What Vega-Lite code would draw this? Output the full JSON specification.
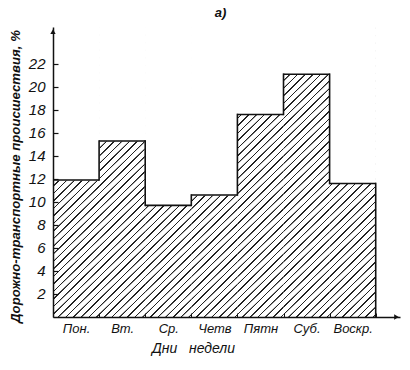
{
  "$schema": "https://vega.github.io/schema/vega-lite/v6.json",
  "width": 347,
  "height": 290,
  "autosize": {"type": "none"},
  "padding": {"left": 53, "top": 27, "right": 10, "bottom": 53},
  "background": "white",
  "title": {"text": "а)", "font": "Liberation Sans", "fontSize": 13, "fontStyle": "italic", "fontWeight": "bold", "color": "#111", "frame": "group", "offset": 7, "dx": -6},
  "data": {"values": [
    {"day": "Пон.", "value": 11.9},
    {"day": "Вт.", "value": 15.3},
    {"day": "Ср.", "value": 9.7},
    {"day": "Четв", "value": 10.6},
    {"day": "Пятн", "value": 17.6},
    {"day": "Суб.", "value": 21.1},
    {"day": "Воскр.", "value": 11.6}
  ]},
  "config": {"view": {"stroke": null}, "axis": {"labelOverlap": false}},
  "layer": [
    {
      "mark": {"type": "bar", "stroke": null, "fill": {"gradient": "linear", "x1": 0, "y1": 0, "x2": 0.17615, "y2": 1.1286, "stops": [
        {"offset":0,"color":"#fff"},{"offset":0.001,"color":"#222"},{"offset":0.0045,"color":"#222"},{"offset":0.0055,"color":"#fff"},
        {"offset":0.0225,"color":"#fff"},{"offset":0.0235,"color":"#222"},{"offset":0.027,"color":"#222"},{"offset":0.028,"color":"#fff"},
        {"offset":0.045,"color":"#fff"},{"offset":0.046,"color":"#222"},{"offset":0.0495,"color":"#222"},{"offset":0.0505,"color":"#fff"},
        {"offset":0.0675,"color":"#fff"},{"offset":0.0685,"color":"#222"},{"offset":0.072,"color":"#222"},{"offset":0.073,"color":"#fff"},
        {"offset":0.09,"color":"#fff"},{"offset":0.091,"color":"#222"},{"offset":0.0945,"color":"#222"},{"offset":0.0955,"color":"#fff"},
        {"offset":0.1125,"color":"#fff"},{"offset":0.1135,"color":"#222"},{"offset":0.117,"color":"#222"},{"offset":0.118,"color":"#fff"},
        {"offset":0.135,"color":"#fff"},{"offset":0.136,"color":"#222"},{"offset":0.1395,"color":"#222"},{"offset":0.1405,"color":"#fff"},
        {"offset":0.1575,"color":"#fff"},{"offset":0.1585,"color":"#222"},{"offset":0.162,"color":"#222"},{"offset":0.163,"color":"#fff"},
        {"offset":0.18,"color":"#fff"},{"offset":0.181,"color":"#222"},{"offset":0.1845,"color":"#222"},{"offset":0.1855,"color":"#fff"},
        {"offset":0.2025,"color":"#fff"},{"offset":0.2035,"color":"#222"},{"offset":0.207,"color":"#222"},{"offset":0.208,"color":"#fff"},
        {"offset":0.225,"color":"#fff"},{"offset":0.226,"color":"#222"},{"offset":0.2295,"color":"#222"},{"offset":0.2305,"color":"#fff"},
        {"offset":0.2475,"color":"#fff"},{"offset":0.2485,"color":"#222"},{"offset":0.252,"color":"#222"},{"offset":0.253,"color":"#fff"},
        {"offset":0.27,"color":"#fff"},{"offset":0.271,"color":"#222"},{"offset":0.2745,"color":"#222"},{"offset":0.2755,"color":"#fff"},
        {"offset":0.2925,"color":"#fff"},{"offset":0.2935,"color":"#222"},{"offset":0.297,"color":"#222"},{"offset":0.298,"color":"#fff"},
        {"offset":0.315,"color":"#fff"},{"offset":0.316,"color":"#222"},{"offset":0.3195,"color":"#222"},{"offset":0.3205,"color":"#fff"},
        {"offset":0.3375,"color":"#fff"},{"offset":0.3385,"color":"#222"},{"offset":0.342,"color":"#222"},{"offset":0.343,"color":"#fff"},
        {"offset":0.36,"color":"#fff"},{"offset":0.361,"color":"#222"},{"offset":0.3645,"color":"#222"},{"offset":0.3655,"color":"#fff"},
        {"offset":0.3825,"color":"#fff"},{"offset":0.3835,"color":"#222"},{"offset":0.387,"color":"#222"},{"offset":0.388,"color":"#fff"},
        {"offset":0.405,"color":"#fff"},{"offset":0.406,"color":"#222"},{"offset":0.4095,"color":"#222"},{"offset":0.4105,"color":"#fff"},
        {"offset":0.4275,"color":"#fff"},{"offset":0.4285,"color":"#222"},{"offset":0.432,"color":"#222"},{"offset":0.433,"color":"#fff"},
        {"offset":0.45,"color":"#fff"},{"offset":0.451,"color":"#222"},{"offset":0.4545,"color":"#222"},{"offset":0.4555,"color":"#fff"},
        {"offset":0.4725,"color":"#fff"},{"offset":0.4735,"color":"#222"},{"offset":0.477,"color":"#222"},{"offset":0.478,"color":"#fff"},
        {"offset":0.495,"color":"#fff"},{"offset":0.496,"color":"#222"},{"offset":0.4995,"color":"#222"},{"offset":0.5005,"color":"#fff"},
        {"offset":0.5175,"color":"#fff"},{"offset":0.5185,"color":"#222"},{"offset":0.522,"color":"#222"},{"offset":0.523,"color":"#fff"},
        {"offset":0.54,"color":"#fff"},{"offset":0.541,"color":"#222"},{"offset":0.5445,"color":"#222"},{"offset":0.5455,"color":"#fff"},
        {"offset":0.5625,"color":"#fff"},{"offset":0.5635,"color":"#222"},{"offset":0.567,"color":"#222"},{"offset":0.568,"color":"#fff"},
        {"offset":0.585,"color":"#fff"},{"offset":0.586,"color":"#222"},{"offset":0.5895,"color":"#222"},{"offset":0.5905,"color":"#fff"},
        {"offset":0.6075,"color":"#fff"},{"offset":0.6085,"color":"#222"},{"offset":0.612,"color":"#222"},{"offset":0.613,"color":"#fff"},
        {"offset":0.63,"color":"#fff"},{"offset":0.631,"color":"#222"},{"offset":0.6345,"color":"#222"},{"offset":0.6355,"color":"#fff"},
        {"offset":0.6525,"color":"#fff"},{"offset":0.6535,"color":"#222"},{"offset":0.657,"color":"#222"},{"offset":0.658,"color":"#fff"},
        {"offset":0.675,"color":"#fff"},{"offset":0.676,"color":"#222"},{"offset":0.6795,"color":"#222"},{"offset":0.6805,"color":"#fff"},
        {"offset":0.6975,"color":"#fff"},{"offset":0.6985,"color":"#222"},{"offset":0.702,"color":"#222"},{"offset":0.703,"color":"#fff"},
        {"offset":0.72,"color":"#fff"},{"offset":0.721,"color":"#222"},{"offset":0.7245,"color":"#222"},{"offset":0.7255,"color":"#fff"},
        {"offset":0.7425,"color":"#fff"},{"offset":0.7435,"color":"#222"},{"offset":0.747,"color":"#222"},{"offset":0.748,"color":"#fff"},
        {"offset":0.765,"color":"#fff"},{"offset":0.766,"color":"#222"},{"offset":0.7695,"color":"#222"},{"offset":0.7705,"color":"#fff"},
        {"offset":0.7875,"color":"#fff"},{"offset":0.7885,"color":"#222"},{"offset":0.792,"color":"#222"},{"offset":0.793,"color":"#fff"},
        {"offset":0.81,"color":"#fff"},{"offset":0.811,"color":"#222"},{"offset":0.8145,"color":"#222"},{"offset":0.8155,"color":"#fff"},
        {"offset":0.8325,"color":"#fff"},{"offset":0.8335,"color":"#222"},{"offset":0.837,"color":"#222"},{"offset":0.838,"color":"#fff"},
        {"offset":0.855,"color":"#fff"},{"offset":0.856,"color":"#222"},{"offset":0.8595,"color":"#222"},{"offset":0.8605,"color":"#fff"},
        {"offset":0.8775,"color":"#fff"},{"offset":0.8785,"color":"#222"},{"offset":0.882,"color":"#222"},{"offset":0.883,"color":"#fff"},
        {"offset":0.9,"color":"#fff"},{"offset":0.901,"color":"#222"},{"offset":0.9045,"color":"#222"},{"offset":0.9055,"color":"#fff"},
        {"offset":0.9225,"color":"#fff"},{"offset":0.9235,"color":"#222"},{"offset":0.927,"color":"#222"},{"offset":0.928,"color":"#fff"},
        {"offset":0.945,"color":"#fff"},{"offset":0.946,"color":"#222"},{"offset":0.9495,"color":"#222"},{"offset":0.9505,"color":"#fff"},
        {"offset":0.9675,"color":"#fff"},{"offset":0.9685,"color":"#222"},{"offset":0.972,"color":"#222"},{"offset":0.973,"color":"#fff"},
        {"offset":0.99,"color":"#fff"},{"offset":0.991,"color":"#222"},{"offset":0.9945,"color":"#222"},{"offset":0.9955,"color":"#fff"}
      ]}},
      "encoding": {
        "x": {
          "field": "day", "type": "nominal",
          "scale": {"domain": ["Пон.", "Вт.", "Ср.", "Четв", "Пятн", "Суб.", "Воскр."], "paddingInner": 0, "paddingOuter": 0.2635, "align": 0},
          "axis": {
            "title": "Дни\u00a0\u00a0\u00a0недели", "labelAngle": 0, "labelOverlap": false,
            "tickBand": "extent", "tickSize": -4, "tickColor": "#111", "tickWidth": 1,
            "labelPadding": 9, "labelFont": "Liberation Sans Narrow, Liberation Sans", "labelFontSize": 13, "labelFontStyle": "italic", "labelColor": "#111",
            "domainColor": "#111", "domainWidth": 1.5,
            "titleFont": "Liberation Sans", "titleFontSize": 14, "titleFontStyle": "italic", "titleFontWeight": "normal", "titleColor": "#111",
            "titleX": 140, "titleY": 35, "titleBaseline": "alphabetic", "titleAlign": "center",
            "zindex": 1
          }
        },
        "y": {
          "datum": 25.2, "type": "quantitative",
          "scale": {"domain": [0, 25.2], "nice": false, "zero": true},
          "axis": {
            "title": "Дорожно-транспортные происшествия, %",
            "values": [2, 4, 6, 8, 10, 12, 14, 16, 18, 20, 22],
            "labelOverlap": false,
            "grid": false, "tickSize": -5, "tickColor": "#111", "tickWidth": 1.2,
            "labelPadding": 13, "labelFont": "Liberation Sans Narrow, Liberation Sans", "labelFontSize": 15, "labelFontStyle": "italic", "labelColor": "#111",
            "domainColor": "#111", "domainWidth": 1.5,
            "titleFont": "Liberation Sans", "titleFontSize": 13.2, "titleFontStyle": "italic", "titleFontWeight": "bold", "titleColor": "#111",
            "titleX": -34, "titleY": 149, "titleAngle": -90, "titleAlign": "center", "titleBaseline": "alphabetic",
            "zindex": 1
          }
        }
      }
    },
    {
      "mark": {"type": "bar", "fill": "#fff", "stroke": "#fff", "strokeWidth": 1},
      "encoding": {
        "x": {"field": "day", "type": "nominal"},
        "y": {"field": "value", "type": "quantitative", "axis": {"labelOverlap": false, "values": [2, 4, 6, 8, 10, 12, 14, 16, 18, 20, 22]}},
        "y2": {"datum": 25.2}
      }
    },
    {
      "mark": {"type": "bar", "filled": false, "color": "#111", "strokeWidth": 1.6},
      "encoding": {
        "x": {"field": "day", "type": "nominal"},
        "y": {"field": "value", "type": "quantitative", "axis": {"labelOverlap": false, "values": [2, 4, 6, 8, 10, 12, 14, 16, 18, 20, 22]}},
        "y2": {"field": "value"}
      }
    },
    {
      "transform": [{"window": [{"op": "lag", "field": "value", "as": "prev"}]}, {"filter": "datum.prev != null"}],
      "mark": {"type": "rule", "color": "#111", "strokeWidth": 1.6, "strokeCap": "square"},
      "encoding": {
        "x": {"field": "day", "type": "nominal", "bandPosition": 0},
        "y": {"field": "prev", "type": "quantitative", "axis": {"labelOverlap": false, "values": [2, 4, 6, 8, 10, 12, 14, 16, 18, 20, 22]}},
        "y2": {"field": "value"}
      }
    },
    {
      "transform": [{"filter": "datum.day == 'Воскр.'"}],
      "mark": {"type": "rule", "color": "#111", "strokeWidth": 1.6, "strokeCap": "square"},
      "encoding": {
        "x": {"field": "day", "type": "nominal", "bandPosition": 1},
        "y": {"field": "value", "type": "quantitative", "axis": {"labelOverlap": false, "values": [2, 4, 6, 8, 10, 12, 14, 16, 18, 20, 22]}},
        "y2": {"datum": 0}
      }
    },
    {
      "transform": [{"filter": "datum.day == 'Пон.'"}],
      "mark": {"type": "point", "shape": "triangle-up", "filled": true, "color": "#111", "size": 28, "opacity": 1},
      "encoding": {
        "x": {"datum": "Пон.", "type": "nominal", "bandPosition": 0},
        "y": {"datum": 24.8, "type": "quantitative", "axis": {"labelOverlap": false, "values": [2, 4, 6, 8, 10, 12, 14, 16, 18, 20, 22]}}
      }
    },
    {
      "transform": [{"filter": "datum.day == 'Пон.'"}],
      "mark": {"type": "point", "shape": "triangle-right", "filled": true, "color": "#111", "size": 28, "opacity": 1},
      "encoding": {
        "x": {"datum": "Воскр.", "type": "nominal", "bandPosition": 1.45},
        "y": {"datum": 0, "type": "quantitative", "axis": {"labelOverlap": false, "values": [2, 4, 6, 8, 10, 12, 14, 16, 18, 20, 22]}}
      }
    }
  ]
}
